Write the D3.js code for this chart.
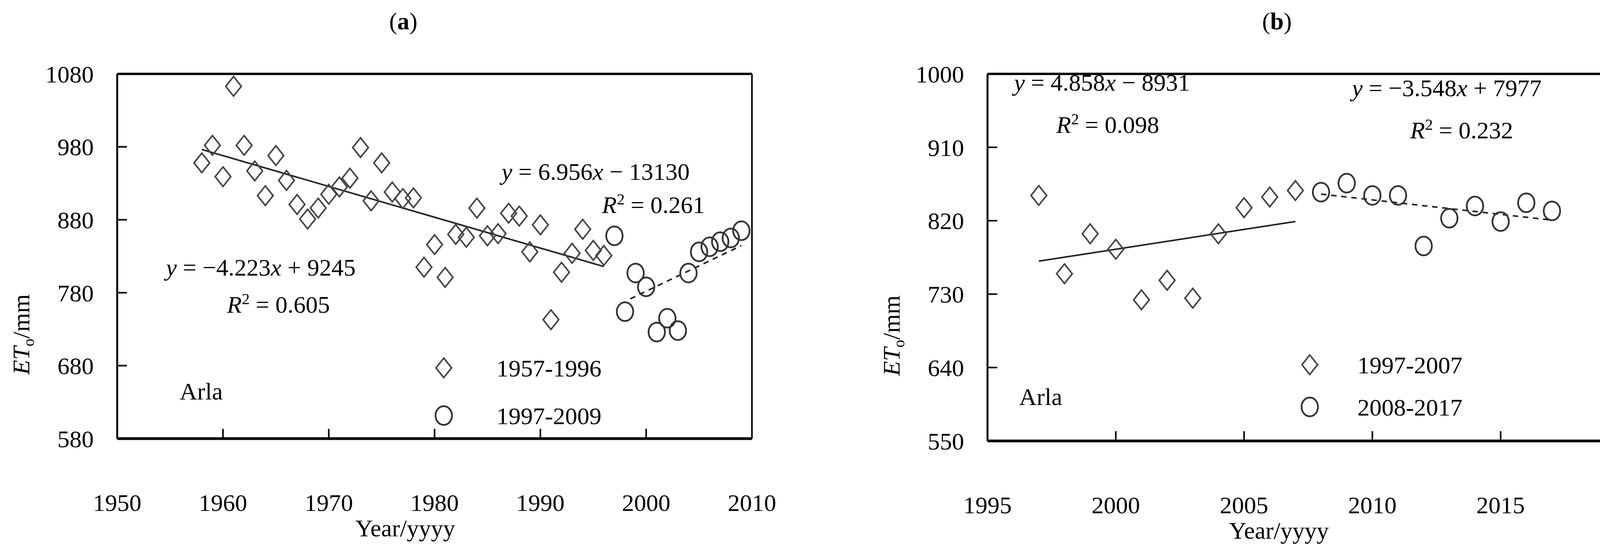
<!DOCTYPE html>
<html><head><meta charset="utf-8">
<script src="https://cdn.jsdelivr.net/npm/d3@7"></script>
<style>body{margin:0;background:#fff}text{font-family:"Liberation Serif","Times New Roman",serif}</style>
</head><body>
<script>
// panel (a)
const yearsA1 = d3.range(1958, 1997);
const etA1 = [958,982,939,1063,982,947,913,968,934,901,881,896,915,925,937,979,906,958,918,909,910,815,846,801,860,856,896,858,861,889,885,836,873,743,808,834,867,838,831];
const yearsA2 = d3.range(1997, 2010);
const etA2 = [858,754,807,788,726,745,728,807,836,843,850,855,865];
// panel (b)
const yearsB1 = d3.range(1997, 2008);
const etB1 = [851,755,804,785,723,747,725,804,836,849,857];
const yearsB2 = d3.range(2008, 2018);
const etB2 = [855,866,851,851,789,823,838,819,842,832];

const W = 4240, H = 1430;
const svg = d3.select("body").append("svg").attr("width", W).attr("height", H);

const panels = [
  {title: "a", left: 300, right: 1925, top: 189, bottom: 1122,
   xd: [1950, 2010], xt: d3.range(1950, 2011, 10), yd: [580, 1080], yt: d3.range(580, 1081, 100),
   s1: [yearsA1, etA1], s2: [yearsA2, etA2],
   fit1: {a: -4.223, b: 9245, x0: 1958, x1: 1996},
   fit2: {a: 6.956, b: -13130, x0: 1998.5, x1: 2009},
   eq1: {t: ["−4.223", "+ 9245"], r: "0.605", x: 425, y: 705, rx: 581, ry: 800},
   eq2: {t: ["6.956", "− 13130"], r: "0.261", x: 1284, y: 460, rx: 1541, ry: 545},
   leg: ["1957-1996", "1997-2009"], lx: 1136, ly1: 941, ly2: 1063, tx: 1271, arla: [460, 1000]},
  {title: "b", left: 2528, right: 4170, top: 189, bottom: 1128,
   xd: [1995, 2020], xt: d3.range(1995, 2021, 5), yd: [550, 1000], yt: d3.range(550, 1001, 90),
   s1: [yearsB1, etB1], s2: [yearsB2, etB2],
   fit1: {a: 4.858, b: -8931, x0: 1997, x1: 2007},
   fit2: {a: -3.548, b: 7977, x0: 2008, x1: 2017},
   eq1: {t: ["4.858", "− 8931"], r: "0.098", x: 2596, y: 232, rx: 2704, ry: 340},
   eq2: {t: ["−3.548", "+ 7977"], r: "0.232", x: 3461, y: 246, rx: 3610, ry: 354},
   leg: ["1997-2007", "2008-2017"], lx: 3353, ly1: 933, ly2: 1041, tx: 3475, arla: [2609, 1014]}
];

const fs = 62;

panels.forEach(p => {
  const x = d3.scaleLinear().domain(p.xd).range([p.left, p.right]);
  const y = d3.scaleLinear().domain(p.yd).range([p.bottom, p.top]);
  const g = svg.append("g");

  // frame
  g.append("line").attr("x1", p.left).attr("x2", p.right).attr("y1", p.top).attr("y2", p.top).attr("stroke", "#000").attr("stroke-width", 6);
  g.append("line").attr("x1", p.left).attr("x2", p.right).attr("y1", p.bottom).attr("y2", p.bottom).attr("stroke", "#000").attr("stroke-width", 7);
  g.append("line").attr("x1", p.left).attr("x2", p.left).attr("y1", p.top).attr("y2", p.bottom).attr("stroke", "#000").attr("stroke-width", 5);
  g.append("line").attr("x1", p.right).attr("x2", p.right).attr("y1", p.top).attr("y2", p.bottom).attr("stroke", "#000").attr("stroke-width", 4);

  // ticks (inward) and labels
  g.selectAll(".xt").data(p.xt).enter().append("line")
    .attr("x1", d => x(d)).attr("x2", d => x(d)).attr("y1", p.bottom).attr("y2", p.bottom - 25)
    .attr("stroke", "#000").attr("stroke-width", 4);
  g.selectAll(".xl").data(p.xt).enter().append("text")
    .attr("x", d => x(d)).attr("y", p.bottom + 185).attr("text-anchor", "middle")
    .attr("font-size", fs).text(d => d);
  g.selectAll(".yt").data(p.yt).enter().append("line")
    .attr("x1", p.left).attr("x2", p.left + 25).attr("y1", d => y(d)).attr("y2", d => y(d))
    .attr("stroke", "#000").attr("stroke-width", 4);
  g.selectAll(".yl").data(p.yt).enter().append("text")
    .attr("x", p.left - 60).attr("y", d => y(d)).attr("dy", "0.35em").attr("text-anchor", "end")
    .attr("font-size", fs).text(d => d);

  // titles
  const t = g.append("text").attr("x", (p.left + p.right) / 2 - 80).attr("y", 75)
    .attr("text-anchor", "middle").attr("font-size", fs);
  t.append("tspan").text("(");
  t.append("tspan").attr("font-weight", "bold").text(p.title);
  t.append("tspan").text(")");
  g.append("text").attr("x", (p.left + p.right) / 2 - 75).attr("y", p.bottom + 250)
    .attr("text-anchor", "middle").attr("font-size", fs).text("Year/yyyy");
  const yl = g.append("text").attr("transform", `translate(${p.left - 225},${(p.top + p.bottom) / 2 + 200}) rotate(-90)`)
    .attr("text-anchor", "middle").attr("font-size", fs);
  yl.append("tspan").attr("font-style", "italic").text("ET");
  yl.append("tspan").attr("font-size", fs * 0.65).attr("dy", 12).text("o");
  yl.append("tspan").attr("dy", -12).text("/mm");

  // fit lines
  [p.fit1, p.fit2].forEach((f, i) => {
    g.append("line").attr("x1", x(f.x0)).attr("x2", x(f.x1))
      .attr("y1", y(f.a * f.x0 + f.b)).attr("y2", y(f.a * f.x1 + f.b))
      .attr("stroke", "#222").attr("stroke-width", 4)
      .attr("stroke-dasharray", i ? "14,12" : null);
  });

  const diamond = (sel, cx, cy) => sel.append("path")
    .attr("d", `M${cx},${cy - 25}L${cx + 20},${cy}L${cx},${cy + 25}L${cx - 20},${cy}Z`)
    .attr("fill", "none").attr("stroke", "#444").attr("stroke-width", 4);
  const circle = (sel, cx, cy) => sel.append("ellipse").attr("cx", cx).attr("cy", cy)
    .attr("rx", 21).attr("ry", 24).attr("fill", "none").attr("stroke", "#333").attr("stroke-width", 4.5);

  p.s1[0].forEach((yr, i) => diamond(g, x(yr), y(p.s1[1][i])));
  p.s2[0].forEach((yr, i) => circle(g, x(yr), y(p.s2[1][i])));

  // equations
  [p.eq1, p.eq2].forEach(e => {
    const tx = g.append("text").attr("x", e.x).attr("y", e.y).attr("font-size", fs);
    tx.append("tspan").attr("font-style", "italic").text("y");
    tx.append("tspan").text(" = " + e.t[0]);
    tx.append("tspan").attr("font-style", "italic").text("x");
    tx.append("tspan").text(" " + e.t[1]);
    const r = g.append("text").attr("x", e.rx).attr("y", e.ry).attr("font-size", fs);
    r.append("tspan").attr("font-style", "italic").text("R");
    r.append("tspan").attr("font-size", fs * 0.65).attr("dy", -22).text("2");
    r.append("tspan").attr("dy", 22).text(" = " + e.r);
  });

  // legend
  diamond(g, p.lx, p.ly1);
  circle(g, p.lx, p.ly2);
  g.append("text").attr("x", p.tx).attr("y", p.ly1).attr("dy", "0.35em").attr("font-size", fs).text(p.leg[0]);
  g.append("text").attr("x", p.tx).attr("y", p.ly2).attr("dy", "0.35em").attr("font-size", fs).text(p.leg[1]);
  g.append("text").attr("x", p.arla[0]).attr("y", p.arla[1]).attr("dy", "0.35em").attr("font-size", fs).text("Arla");
});
</script>
</body></html>
